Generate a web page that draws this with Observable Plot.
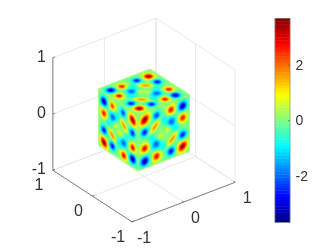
<!DOCTYPE html>
<html><head><meta charset="utf-8">
<script src="https://cdn.jsdelivr.net/npm/d3@7"></script>
<script src="https://cdn.jsdelivr.net/npm/@observablehq/plot@0.6"></script>
<style>html,body{margin:0;padding:0;background:#fff;overflow:hidden}#c{position:relative;width:332px;height:249px;filter:blur(.3px)}#c svg{position:absolute;left:0;top:0}</style>
</head><body><div id="c"></div>
<script>
const ticks=[-1,0,1];
const barTicks=[-2,0,2];
const colorDomain=[-3.67,3.67];
const jetStops=["#00007f","#0000ff","#00ffff","#ffff00","#ff0000","#7f0000"];
const jetAt=[0,.125,.375,.625,.875,1];
// blobs: u, v on the face (0..1), value, major, minor, diagonal direction
const rightBlobs=[[.13,.86,3.6,.08,.062,1],[.36,.86,-2.4,.07,.05,0],[.64,.86,2.8,.07,.055,0],[.865,.85,-3.4,.07,.065,0],
[.865,.64,2.7,.07,.055,0],[.865,.34,-2.7,.07,.055,0],[.865,.135,3.6,.08,.062,1],[.64,.125,-2.8,.07,.055,0],
[.36,.135,2.9,.07,.055,0],[.13,.125,-3.5,.07,.065,0],[.13,.355,2.9,.07,.055,0],[.13,.64,-2.7,.07,.052,0],
[.33,.67,1.85,.115,.036,1],[.66,.33,1.85,.115,.036,1],[.65,.65,-2.1,.085,.065,0],[.35,.35,-2.1,.085,.065,0],[.43,.45,.9,.05,.04,0],[.57,.55,.9,.05,.04,0],
[.25,.5,-.9,.07,.06,0],[.5,.25,-.9,.07,.06,0],[.75,.5,-.9,.07,.06,0],[.5,.75,-.9,.07,.06,0]];
const leftBlobs=[[.86,.84,-3.4,.07,.065,0],[.86,.63,2.8,.07,.055,0],[.86,.33,-2.8,.07,.055,0],[.86,.115,3.6,.08,.062,1],
[.65,.855,2.4,.07,.05,0],[.65,.145,-2.8,.07,.055,0],[.375,.86,-2.4,.07,.05,0],[.36,.11,2.9,.07,.055,0],
[.135,.84,3.6,.08,.062,1],[.135,.15,-3.5,.07,.065,0],[.135,.35,2.9,.07,.055,0],[.14,.61,-2.7,.07,.052,0],
[.36,.64,1.85,.115,.036,1],[.65,.33,1.95,.115,.036,1],[.64,.66,-2.1,.085,.065,0],[.36,.33,-2.1,.085,.065,0],[.43,.45,.9,.05,.04,0],[.57,.55,.9,.05,.04,0],
[.25,.5,-.9,.07,.06,0],[.5,.25,-.9,.07,.06,0],[.75,.5,-.9,.07,.06,0],[.5,.75,-.9,.07,.06,0]];
const topBlobs=[[.845,.835,3.6,.07,.06,0],[.625,.846,-2.7,.07,.05,0],[.33,.84,2.7,.07,.05,0],[.125,.85,-3.3,.07,.06,0],
[.12,.635,2.8,.07,.05,0],[.125,.335,-2.8,.07,.05,0],[.13,.14,3.6,.07,.06,0],[.36,.13,-2.8,.07,.05,0],
[.62,.125,2.8,.07,.05,0],[.82,.125,-3.3,.07,.06,0],[.85,.33,2.8,.07,.05,0],[.85,.62,-2.8,.07,.05,0],
[.64,.64,1.9,.115,.036,-1],[.33,.33,1.9,.115,.036,-1],[.36,.63,-2.1,.095,.06,0],[.63,.35,-2.1,.095,.06,0],[.45,.55,.8,.05,.04,0],[.55,.45,.8,.05,.04,0],
[.25,.5,-.9,.07,.06,0],[.5,.25,-.9,.07,.06,0],[.75,.5,-.9,.07,.06,0],[.5,.75,-.9,.07,.06,0]];
const cubeEdges=[[[-.5,-.5,-.5],[.5,-.5,-.5]],[[-.5,-.5,-.5],[-.5,.5,-.5]],[[-.5,-.5,-.5],[-.5,-.5,.5]],[[.5,-.5,-.5],[.5,-.5,.5]],[[-.5,.5,-.5],[-.5,.5,.5]],[[-.5,-.5,.5],[.5,-.5,.5]],[[-.5,-.5,.5],[-.5,.5,.5]],[[.5,-.5,.5],[.5,.5,.5]],[[-.5,.5,.5],[.5,.5,.5]]];

const az=-37.5*Math.PI/180, el=30*Math.PI/180;
const P=([x,y,z])=>[x*Math.cos(az)+y*Math.sin(az), -x*Math.sin(az)*Math.sin(el)+y*Math.cos(az)*Math.sin(el)+z*Math.cos(el)];
const S=65, cx=143.5, cy=119.5, blobScale=.86;
const xDom=[-cx/S,(332-cx)/S], yDom=[-(249-cy)/S,cy/S];
const colorScale={type:"linear",domain:jetAt.map(t=>colorDomain[0]+t*(colorDomain[1]-colorDomain[0])),range:jetStops,clamp:true,interpolate:"rgb"};

const faces=[
 {o:[-.5,-.5,-.5],a:[1,0,0],b:[0,0,1],blobs:rightBlobs},
 {o:[-.5,-.5,-.5],a:[0,1,0],b:[0,0,1],blobs:leftBlobs},
 {o:[-.5,-.5,.5],a:[1,0,0],b:[0,1,0],blobs:topBlobs}];
for(const f of faces){const o=P(f.o),a=P(f.a),b=P(f.b);f.O=o;f.A=a;f.B=b;f.det=a[0]*b[1]-a[1]*b[0];}
function field(X,Y){
  for(const f of faces){
    const dx=X-f.O[0],dy=Y-f.O[1];
    const u=(dx*f.B[1]-dy*f.B[0])/f.det, v=(f.A[0]*dy-f.A[1]*dx)/f.det;
    if(u<0||u>1||v<0||v>1) continue;
    let s=.02;
    for(const [bu,bv,val,ma0,mi0,dir] of f.blobs){
      const du=u-bu,dv=v-bv,ma=ma0*blobScale,mi=mi0*blobScale;
      let q;
      if(dir===0) q=(du*du+dv*dv)/(ma*mi);
      else{const p=(du+dir*dv)/Math.SQRT2,n=(du-dir*dv)/Math.SQRT2;q=p*p/(ma*ma)+n*n/(mi*mi);}
      s+=val*Math.exp(-q/2);
    }
    return s;
  }
  return NaN;
}
const gridSegs=[];
for(const t of ticks){
 gridSegs.push([[t,-1,-1],[t,1,-1]],[[-1,t,-1],[1,t,-1]],[[t,1,-1],[t,1,1]],[[-1,1,t],[1,1,t]],[[1,t,-1],[1,t,1]],[[1,-1,t],[1,1,t]]);
}
const axisSegs=[[[-1,-1,-1],[1,-1,-1]],[[-1,-1,-1],[-1,1,-1]],[[-1,1,-1],[-1,1,1]]];
const tickSegs=[...ticks.map(t=>[[t,-1,-1],[t,-.96,-1]]),...ticks.map(t=>[[-1,t,-1],[-.96,t,-1]]),...ticks.map(t=>[[-1,1,t],[-.96,1,t]])];
const seg=(data,o)=>Plot.link(data,{x1:d=>P(d[0])[0],y1:d=>P(d[0])[1],x2:d=>P(d[1])[0],y2:d=>P(d[1])[1],...o});
const lab=(data,pos,o)=>Plot.text(data,{x:t=>P(pos(t))[0],y:t=>P(pos(t))[1],text:t=>String(t),fontSize:16,fill:"#333",...o});

const main=Plot.plot({width:332,height:249,margin:0,
 style:{background:"transparent",fontFamily:"'Liberation Sans',Arial,sans-serif"},
 x:{domain:xDom,range:[0,332],axis:null},y:{domain:yDom,range:[249,0],axis:null},color:colorScale,
 marks:[
  seg(gridSegs,{stroke:"#e4e4e4",strokeWidth:.8}),
  seg(axisSegs,{stroke:"#666",strokeWidth:.8}),
  seg(tickSegs,{stroke:"#666",strokeWidth:.8}),
  Plot.raster({fill:field,x1:xDom[0],x2:xDom[1],y1:yDom[0],y2:yDom[1],pixelSize:1}),
  seg(cubeEdges,{stroke:"#9dff6a",strokeWidth:.8}),
  lab(ticks,t=>[-1,1,t],{textAnchor:"end",dx:-7,dy:-1}),
  lab(ticks,t=>[-1,t,-1],{dx:-14,dy:15}),
  lab(ticks,t=>[t,-1,-1],{dx:12,dy:16})
 ]});
const bar=d3.range(64);
const dv=(colorDomain[1]-colorDomain[0])/64;
const cb=Plot.plot({width:332,height:249,margin:0,
 style:{background:"transparent",fontFamily:"'Liberation Sans',Arial,sans-serif"},
 x:{domain:[0,1],range:[275,290],axis:null},y:{domain:colorDomain,range:[222.3,18.3],axis:null},color:colorScale,
 marks:[
  Plot.rect(bar,{x1:0,x2:1,y1:i=>colorDomain[0]+i*dv,y2:i=>colorDomain[0]+(i+1)*dv,fill:i=>colorDomain[0]+(i+.5)*dv,inset:-.2}),
  Plot.rect([0],{x1:0,x2:1,y1:colorDomain[0],y2:colorDomain[1],stroke:"#888",strokeWidth:.6,fill:"none"}),
  Plot.ruleY(barTicks,{x1:.87,x2:1,stroke:"#555",strokeWidth:.7}),
  Plot.text(barTicks,{x:1,y:d=>d,text:d=>String(d),dx:5,textAnchor:"start",fontSize:14,fill:"#333"})
 ]});
const c=document.getElementById("c");c.append(main,cb);
</script></body></html>
